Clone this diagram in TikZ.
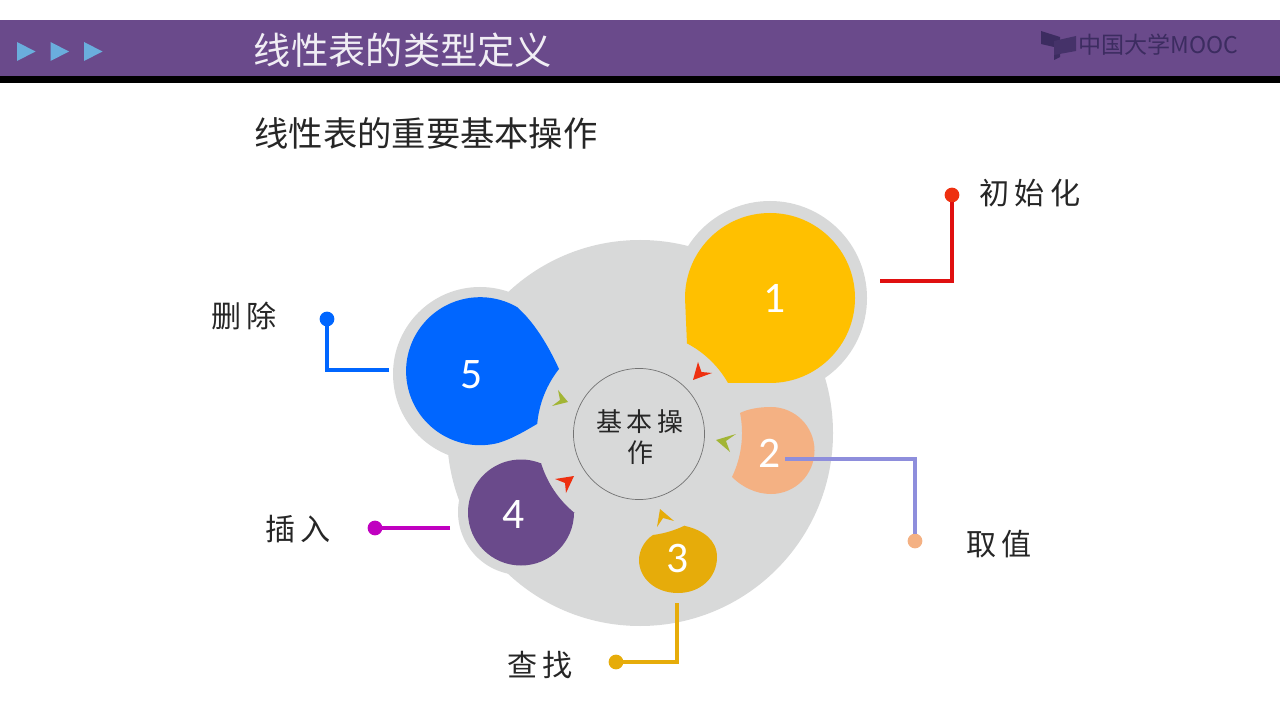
\documentclass[tikz,border=0pt]{standalone}
\usepackage{fontspec}
\setmainfont{Noto Sans CJK SC}
\newfontfamily\wide[LetterSpace=18]{Noto Sans CJK SC}
\newfontfamily\digit{Carlito}
\definecolor{barpurple}{HTML}{6A4A8B}
\definecolor{logopurple}{HTML}{3C2C60}
\definecolor{tri}{HTML}{6AAEDD}
\definecolor{back}{HTML}{D8D9D9}
\definecolor{onecol}{HTML}{FFC000}
\definecolor{twocol}{HTML}{F4B183}
\definecolor{threecol}{HTML}{E6AC0A}
\definecolor{fivecol}{HTML}{0066FF}
\definecolor{tipred}{HTML}{EE3010}
\definecolor{tipgreen}{HTML}{A2B535}
\definecolor{wirered}{HTML}{E01010}
\definecolor{wireblue}{HTML}{8E8EDC}
\definecolor{wirepink}{HTML}{C000C0}
\begin{document}
\begin{tikzpicture}[
    x=0.025cm,y=-0.025cm,
    wire/.style={line width=2.2pt},
    dot/.style={circle, inner sep=0pt, outer sep=0pt, minimum size=10.5pt},
    num/.style={text=white, font=\digit\fontsize{31}{31}\selectfont},
    label/.style={text=black!85, font=\wide\fontsize{21.4}{21.4}\selectfont},
    ]
    \useasboundingbox (0, 0) rectangle (1280, 720);
    % title bar
    \fill[barpurple] (0, 20) rectangle (1280, 76);
    \fill[black] (0, 76) rectangle (1280, 83);
    \foreach \tx in {17, 50.5, 84}
      \fill[tri] (\tx, 42) -- (\tx + 18.5, 51.5) -- (\tx, 61) -- cycle;
    \node[text=white!90!barpurple, font=\fontsize{26.5}{26.5}\selectfont] (title) at (403, 50) {线性表的类型定义};
    \node[text=black!85, font=\fontsize{24.4}{24.4}\selectfont] (subtitle) at (426, 133) {线性表的重要基本操作};
    % logo
    \fill[logopurple] (1041, 31) -- (1060, 37) -- (1060, 57) -- (1054, 60) -- (1054, 47) -- (1041, 44) -- cycle;
    \fill[logopurple!80!barpurple] (1054, 41) -- (1076, 36) -- (1076, 51) -- (1054, 55) -- cycle;
    \node[text=logopurple, font=\fontsize{16.4}{16.4}\selectfont, inner sep=0pt] (logo) at (1158.5, 45) {中国大学MOOC};
    % grey backs
    \fill[back] (640, 433) circle (193);
    \fill[back] (770, 298) circle (97);
    \fill[back] (480, 374) circle (87);
    \fill[back] (521, 512) circle (63);
    % petals
    \fill[onecol] (685, 298) arc[start angle=180, end angle=450, radius=85]
      -- (728, 383) arc[start angle=-29.6, end angle=-62.4, radius=101] -- cycle;
    \fill[twocol] (740, 413) .. controls (748, 409) and (759, 407) .. (771, 407)
      arc[start angle=270, end angle=450, radius=43.5]
      .. controls (756, 494) and (742, 487) .. (732, 477)
      arc[start angle=25.6, end angle=-11.3, radius=102] -- cycle;
    \fill[threecol] (685, 526) .. controls (703, 530) and (717, 540) .. (717, 557)
      .. controls (717, 578) and (700, 593) .. (678, 593)
      .. controls (655, 593) and (639, 578) .. (639, 560)
      .. controls (639, 550) and (645, 540) .. (653, 535)
      arc[start angle=82.7, end angle=64.2, radius=103] -- cycle;
    \fill[barpurple] (575, 513) -- (574, 512.5) arc[start angle=0, end angle=292, radius=53]
      -- (541, 463) arc[start angle=163.1, end angle=129.1, radius=103] -- cycle;
    \fill[fivecol] (498, 443) arc[start angle=76, end angle=300, radius=74]
      .. controls (534, 322) and (548, 345) .. (559, 369)
      arc[start angle=218.3, end angle=185, radius=103]
      .. controls (525, 431) and (512, 439) .. (498, 443) -- cycle;
    % small tips
    \fill[tipred] (693, 380) -- (698, 362) -- (701.5, 372) -- (712, 373) -- cycle;
    \fill[tipgreen] (716, 440) -- (736, 434) -- (726, 441) -- (730, 452) -- cycle;
    \fill[threecol] (660, 509) -- (674, 521) -- (663, 518) -- (657, 527) -- cycle;
    \fill[tipred] (574, 476) -- (555, 479) -- (565, 483) -- (566, 493) -- cycle;
    \fill[tipgreen] (568, 402) -- (558, 390) -- (560, 400) -- (552, 406) -- cycle;
    % middle
    \node[circle, draw=black!55, line width=0.5pt, minimum size=93.2pt, inner sep=0pt] (core) at (639, 434) {};
    \node[align=center, text=black!85, font=\wide\fontsize{18.5}{21.5}\selectfont] (coretext) at (640, 437) {基本操\\作};
    \node[num] (one) at (775, 298) {1};
    \node[num] (two) at (770, 453) {2};
    \node[num] (three) at (678, 559) {3};
    \node[num] (four) at (514, 515) {4};
    \node[num] (five) at (472, 375) {5};
    % dots
    \node[dot, fill=tipred] (dotone) at (952, 195) {};
    \node[dot, fill=twocol] (dottwo) at (915, 541) {};
    \node[dot, fill=threecol] (dotthree) at (616, 662) {};
    \node[dot, fill=wirepink] (dotfour) at (375, 528) {};
    \node[dot, fill=fivecol] (dotfive) at (327, 319) {};
    \coordinate (wireone) at (880, 281);
    \coordinate (wiretwo) at (785, 459);
    \coordinate (wirethree) at (677, 603);
    \coordinate (wirefour) at (450, 528);
    \coordinate (wirefive) at (389, 370);
    % wires
    \draw[wire, wirered] (wireone) -| (dotone);
    \draw[wire, wireblue] (wiretwo) -| (dottwo);
    \draw[wire, threecol] (wirethree) |- (dotthree);
    \draw[wire, wirepink] (wirefour) -- (dotfour);
    \draw[wire, fivecol] (wirefive) -| (dotfive);
    % labels
    \node[label] (labelone) at (1030, 193) {初始化};
    \node[label] (labeltwo) at (999, 544) {取值};
    \node[label] (labelthree) at (540, 665) {查找};
    \node[label] (labelfour) at (298, 529) {插入};
    \node[label] (labelfive) at (244, 316) {删除};
  \end{tikzpicture}
\end{document}
